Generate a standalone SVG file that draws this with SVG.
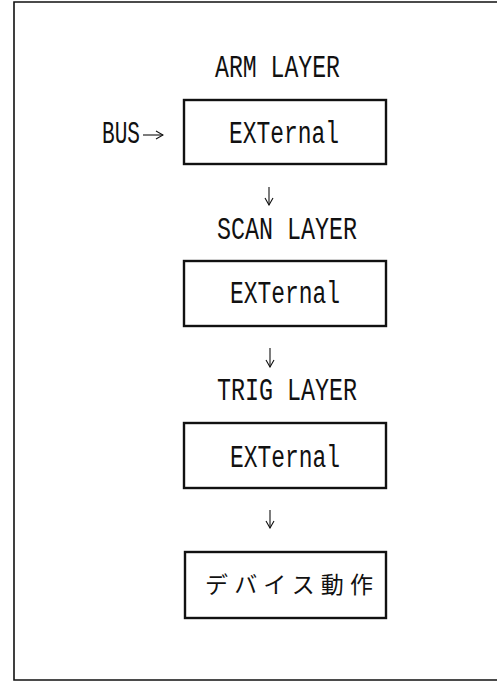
<svg xmlns="http://www.w3.org/2000/svg" width="497" height="683" viewBox="0 0 497 683">
  <defs>
    <style>
      .frame { fill: none; stroke: #111; stroke-width: 1.6; }
      .box { fill: #fff; stroke: #111; stroke-width: 2.4; }
      .lbl { font-family: "Liberation Mono", "DejaVu Sans Mono", monospace; font-size: 31px; fill: #111; }
      .jp { font-family: "Noto Sans CJK JP", "Noto Sans CJK SC", sans-serif; font-size: 23px; fill: #111; }
      .conn { fill: none; stroke: #111; stroke-width: 1.1; }
    </style>
    <marker id="arr" viewBox="0 0 10 10" refX="9" refY="5" markerWidth="10" markerHeight="10" markerUnits="userSpaceOnUse" orient="auto">
      <polyline points="2,1 9,5 2,9" fill="none" stroke="#111" stroke-width="1.1"/>
    </marker>
  </defs>
  <rect x="0" y="0" width="497" height="683" fill="#fff"/>
  <path class="frame" d="M497,2 H14 V680 H497"/>

  <g id="arm">
    <text class="lbl" x="215" y="77" textLength="125" lengthAdjust="spacingAndGlyphs">ARM LAYER</text>
    <rect class="box" x="184" y="100" width="202" height="64"/>
    <text class="lbl" x="229" y="143" textLength="110" lengthAdjust="spacingAndGlyphs">EXTernal</text>
  </g>
  <g id="bus">
    <text class="lbl" x="102" y="143" textLength="38" lengthAdjust="spacingAndGlyphs">BUS</text>
  </g>
  <g id="scan">
    <text class="lbl" x="217" y="239" textLength="140" lengthAdjust="spacingAndGlyphs">SCAN LAYER</text>
    <rect class="box" x="184" y="261" width="202" height="65"/>
    <text class="lbl" x="230" y="303" textLength="110" lengthAdjust="spacingAndGlyphs">EXTernal</text>
  </g>
  <g id="trig">
    <text class="lbl" x="217" y="400" textLength="140" lengthAdjust="spacingAndGlyphs">TRIG LAYER</text>
    <rect class="box" x="184" y="423" width="202" height="65"/>
    <text class="lbl" x="230" y="467" textLength="110" lengthAdjust="spacingAndGlyphs">EXTernal</text>
  </g>
  <g id="device">
    <rect class="box" x="185" y="552" width="201" height="66"/>
    <text class="jp" x="205" y="593" textLength="168" lengthAdjust="spacing">デバイス動作</text>
  </g>

  <g id="connectors">
    <line class="conn" x1="143" y1="135" x2="163" y2="135" marker-end="url(#arr)"/>
    <line class="conn" x1="269" y1="187" x2="269" y2="205" marker-end="url(#arr)"/>
    <line class="conn" x1="270" y1="348" x2="270" y2="367" marker-end="url(#arr)"/>
    <line class="conn" x1="270" y1="510" x2="270" y2="528" marker-end="url(#arr)"/>
  </g>
</svg>
